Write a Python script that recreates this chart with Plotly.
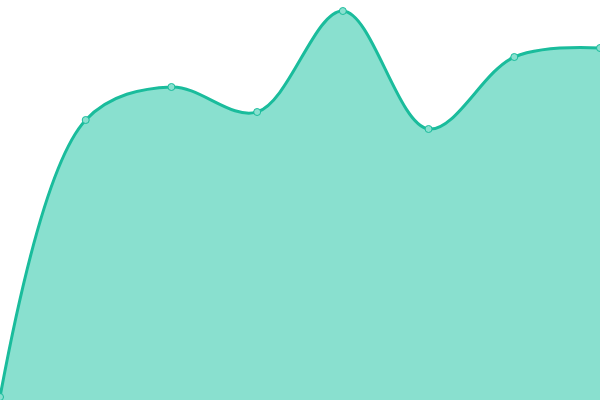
import plotly.graph_objects as go

x_vals = [0, 1, 2, 3, 4, 5, 6, 7]
y_vals = [3, 280, 313, 288, 389, 271, 343, 352]

line_color = "#1abc9c"
fill_color = "#89e0cf"

fig = go.Figure()
fig.add_trace(
    go.Scatter(
        x=x_vals,
        y=y_vals,
        mode="lines+markers",
        fill="tozeroy",
        fillcolor=fill_color,
        line=dict(color=line_color, width=3, shape="spline", smoothing=1),
        marker=dict(size=7, color=fill_color, line=dict(color=line_color, width=1)),
        cliponaxis=False,
        hoverinfo="skip",
    )
)

fig.update_layout(
    width=600,
    height=400,
    margin=dict(l=0, r=0, t=0, b=0),
    paper_bgcolor="white",
    plot_bgcolor="white",
    showlegend=False,
    xaxis=dict(range=[0, 7], visible=False, fixedrange=True),
    yaxis=dict(range=[0, 400], visible=False, fixedrange=True),
)

# the page body has a default 8px margin, drop it so the plot fills the window
fig.write_html(
    "out.html",
    config={"displayModeBar": False},
    post_script="document.body.style.margin='0';document.body.style.overflow='hidden';",
)
